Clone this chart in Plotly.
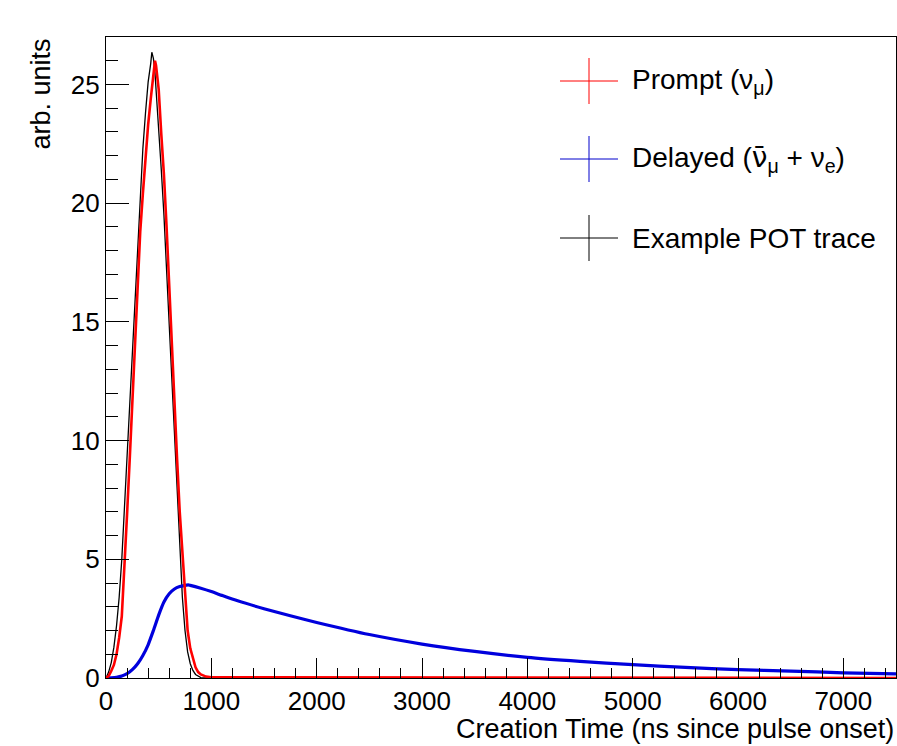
import plotly.graph_objects as go

# ---- data ----
peak_t = [0, 25, 50, 75, 100, 125, 150, 175, 200, 225, 250, 275, 300, 325, 350, 375, 400,
          425, 435, 450, 465, 475, 500, 525, 550, 575, 600, 625, 650, 675, 700, 725, 750,
          775, 800, 825, 850, 875, 900, 950, 1000, 7500]
prompt_vals = [0, 0.08, 0.3, 0.55, 1.0, 1.7, 2.6, 4.5, 6.9, 9.2, 11.5, 14.0, 16.5, 18.8, 20.4,
               21.9, 23.3, 24.4, 24.8, 25.4, 26.0, 25.8, 24.8, 22.9, 21.2, 19.0, 16.5, 13.5,
               11.2, 9.2, 7.0, 5.3, 3.6, 2.0, 1.25, 0.8, 0.45, 0.25, 0.15, 0.06, 0.03, 0.0]
pot_vals = [0, 0.25, 0.65, 1.3, 2.2, 3.4, 5.0, 7.2, 9.5, 11.8, 14.1, 16.3, 18.5, 20.5, 22.3,
            23.8, 25.1, 25.9, 26.36, 26.1, 25.5, 24.8, 23.2, 21.4, 19.5, 17.2, 14.9, 12.5,
            10.2, 7.8, 5.5, 3.4, 2.0, 1.1, 0.6, 0.32, 0.15, 0.07, 0.02, 0.0, 0.0, 0.0]

delayed_t = [0, 50, 100, 150, 200, 250, 300, 350, 400, 450, 500, 550, 600, 650, 700, 750,
             780, 800, 900, 1000, 1100, 1250, 1500, 1750, 2000, 2500, 3000, 3500, 4000, 4500,
             5000, 5500, 6000, 6500, 7000, 7500]
delayed_vals = [0, 0.01, 0.03, 0.08, 0.18, 0.35, 0.6, 0.95, 1.4, 2.0, 2.65, 3.2, 3.55, 3.75,
                3.85, 3.9, 3.92, 3.90, 3.78, 3.64, 3.48, 3.25, 2.92, 2.62, 2.34, 1.83, 1.43,
                1.12, 0.87, 0.70, 0.56, 0.45, 0.35, 0.29, 0.22, 0.17]

x_range = [0, 7500]
y_range = [0, 27]

FONT = "Liberation Sans, Arial, Helvetica, sans-serif"

fig = go.Figure()
fig.add_trace(go.Scatter(x=peak_t, y=pot_vals, mode="lines",
                         line=dict(color="black", width=1.3), showlegend=False))
fig.add_trace(go.Scatter(x=delayed_t, y=delayed_vals, mode="lines",
                         line=dict(color="#0000dd", width=3.2, shape="spline", smoothing=0.6),
                         showlegend=False))
fig.add_trace(go.Scatter(x=peak_t, y=prompt_vals, mode="lines",
                         line=dict(color="#ff0000", width=2.6), showlegend=False))

# plot area in pixels
L, R, T, B = 106, 896, 37, 678
W, H = 897, 746
pw, ph = R - L, B - T

def px_to_paper_x(px):
    return (px - L) / pw

def px_to_paper_y(py):
    return (B - py) / ph

NUBAR = "<span style=\"font-family:'DejaVu Sans'\">ν̄</span>"

# legend (ROOT style crosses)
legend_items = [
    ("Prompt (ν<sub>μ</sub>)", "#ff0000", 81),
    ("Delayed (" + NUBAR + "<sub>μ</sub> + ν<sub>e</sub>)", "#0000cc", 159),
    ("Example POT trace", "black", 238),
]
shapes = []
annotations = []
for text, col, cy in legend_items:
    shapes.append(dict(type="line", xref="paper", yref="paper",
                       x0=px_to_paper_x(560), x1=px_to_paper_x(618),
                       y0=px_to_paper_y(cy), y1=px_to_paper_y(cy),
                       line=dict(color=col, width=1)))
    shapes.append(dict(type="line", xref="paper", yref="paper",
                       x0=px_to_paper_x(589), x1=px_to_paper_x(589),
                       y0=px_to_paper_y(cy - 23), y1=px_to_paper_y(cy + 23),
                       line=dict(color=col, width=1)))
    annotations.append(dict(text=text, xref="paper", yref="paper",
                            x=px_to_paper_x(630), y=px_to_paper_y(cy),
                            xanchor="left", yanchor="middle", showarrow=False,
                            font=dict(family=FONT, size=28, color="black")))

annotations.append(dict(text="Creation Time (ns since pulse onset)", xref="paper", yref="paper",
                        x=px_to_paper_x(896), y=px_to_paper_y(729),
                        xanchor="right", yanchor="middle", showarrow=False,
                        font=dict(family=FONT, size=27, color="black")))
annotations.append(dict(text="arb. units", xref="paper", yref="paper",
                        x=px_to_paper_x(40), y=1.0, textangle=-90,
                        xanchor="center", yanchor="top", showarrow=False,
                        font=dict(family=FONT, size=27, color="black")))

fig.update_layout(
    width=W, height=H,
    margin=dict(l=L, r=W - R, t=T, b=H - B, pad=0),
    paper_bgcolor="white", plot_bgcolor="white",
    shapes=shapes, annotations=annotations,
    showlegend=False,
    font=dict(family=FONT, size=26, color="black"),
)
fig.update_xaxes(
    range=x_range, showgrid=False, zeroline=False,
    showline=True, linecolor="black", linewidth=1.2, mirror=True,
    ticks="inside", ticklen=20, tickcolor="black", tickwidth=1,
    dtick=1000, tick0=0,
    minor=dict(dtick=200, ticks="inside", ticklen=10, tickcolor="black", tickwidth=1, showgrid=False),
    tickfont=dict(family=FONT, size=26, color="black"),
)
fig.update_yaxes(
    range=y_range, showgrid=False, zeroline=False,
    showline=True, linecolor="black", linewidth=1.2, mirror=True,
    ticks="inside", ticklen=23, tickcolor="black", tickwidth=1,
    dtick=5, tick0=0,
    minor=dict(dtick=1, ticks="inside", ticklen=12, tickcolor="black", tickwidth=1, showgrid=False),
    tickfont=dict(family=FONT, size=26, color="black"),
)

fig.write_html("out.html", config={"displayModeBar": False},
               post_script="document.body.style.margin='0';document.body.style.overflow='hidden';")
